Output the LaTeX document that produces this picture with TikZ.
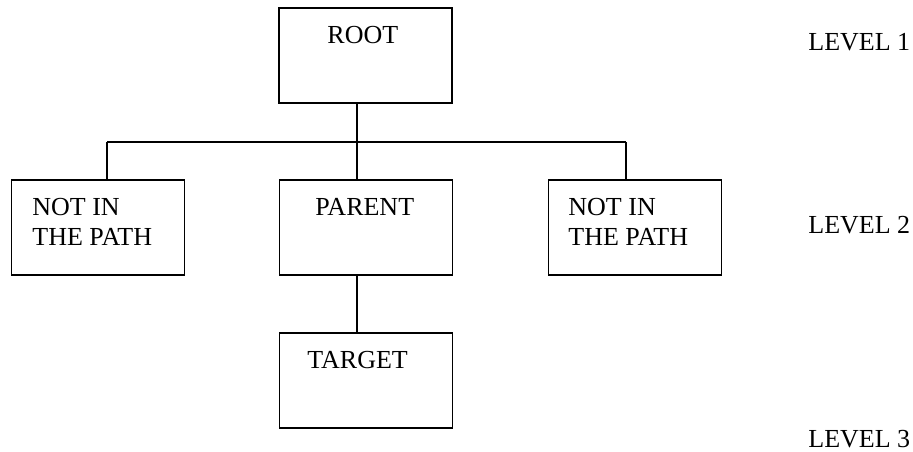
\documentclass[tikz,border=0pt]{standalone}
\usepackage{fontspec}
\setmainfont{Liberation Serif}
\tikzset{
  box/.style={
    draw,
    line width=0.65pt,
    inner sep=0pt,
    minimum width=86.5pt,
    minimum height=47.5pt
  },
  lbl/.style={
    inner sep=0pt,
    anchor=base west
  },
  wire/.style={
    line width=0.55pt
  }
}

\begin{document}
\begin{tikzpicture}[x=0.5pt,y=-0.5pt,font=\fontsize{13}{15}\selectfont]
\useasboundingbox (0,0) rectangle (913,451);

% the boxes of the tree
\node[box, line width=1pt] (root) at (365.5,55) {};
\node[box] (left) at (98,227.5) {};
\node[box] (parent) at (366,227.5) {};
\node[box] (right) at (635,227.5) {};
\node[box] (target) at (366,380.5) {};

\node[lbl] (rootText) at (327,43) {ROOT};
\node[lbl, anchor=north west, align=left] (leftText) at (32,198) {NOT IN\\THE PATH};
\node[lbl] (parentText) at (315,215) {PARENT};
\node[lbl, anchor=north west, align=left] (rightText) at (568,198) {NOT IN\\THE PATH};
\node[lbl] (targetText) at (307,368) {TARGET};

% levels on the right
\node[lbl] (level1) at (808,50) {LEVEL 1};
\node[lbl] (level2) at (808,233) {LEVEL 2};
\node[lbl] (level3) at (808,447) {LEVEL 3};

% branches
\coordinate (bus) at (357,142);
\coordinate (busL) at (107,142);
\coordinate (busR) at (626,142);
\draw[wire] (bus |- root.south) -- (bus);
\draw[wire] (busL) -- (busR);
\draw[wire] (busL) -- (busL |- left.north);
\draw[wire] (bus) -- (bus |- parent.north);
\draw[wire] (busR) -- (busR |- right.north);
\draw[wire] (bus |- parent.south) -- (bus |- target.north);
\end{tikzpicture}
\end{document}
